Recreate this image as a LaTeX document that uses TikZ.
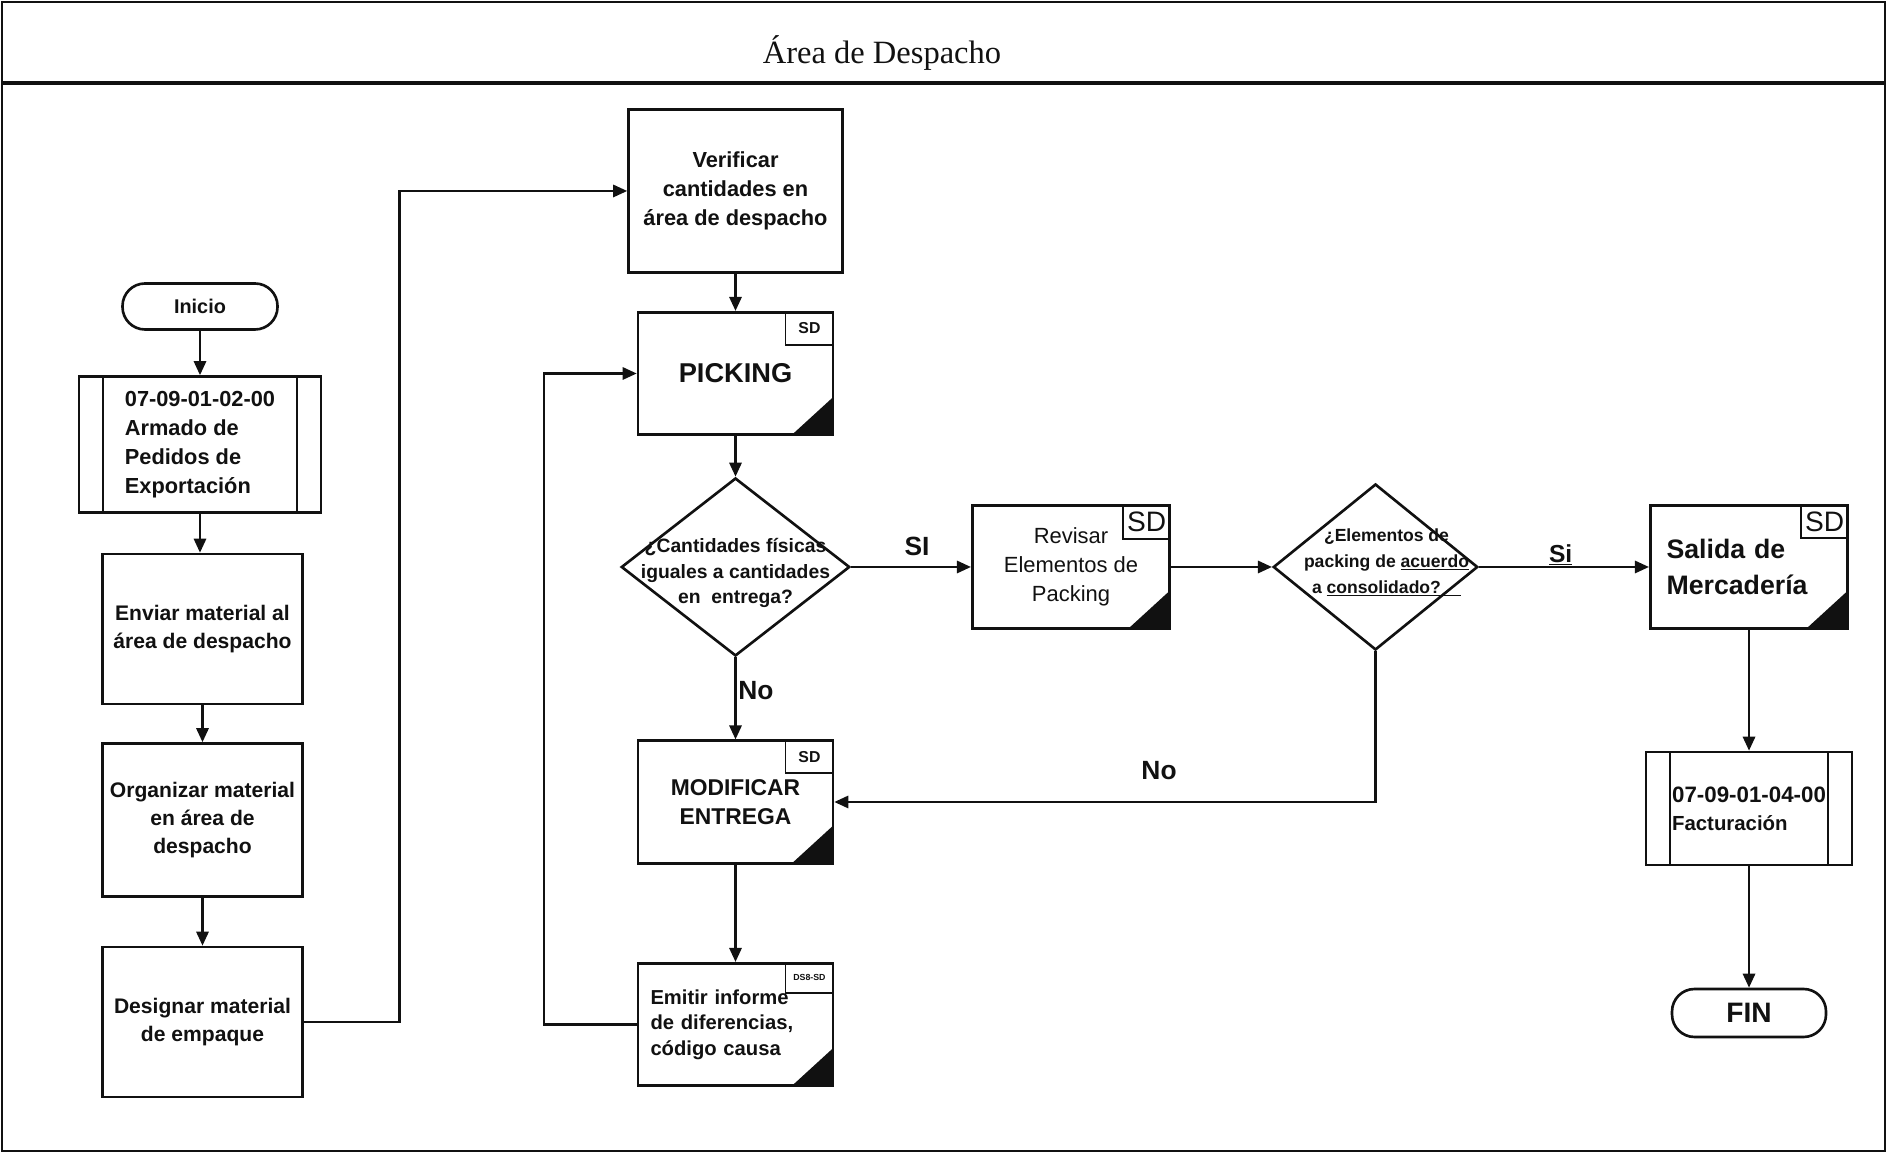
\documentclass[tikz,border=0pt]{standalone}
\usepackage{fontspec}
\setmainfont{Liberation Sans}
\newfontfamily\serifa{Liberation Serif}
\usepackage{tikz}
\usetikzlibrary{arrows.meta,shapes.geometric}
\definecolor{tinta}{HTML}{111111}
\newcommand{\tam}[2]{\fontsize{#1}{#2}\selectfont}

\begin{document}
\begin{tikzpicture}[
  borde/.style={draw=tinta, line width=1.5pt},
  flecha/.style={-{Triangle[length=8pt,width=7pt]}, tinta, line width=1.3pt},
  caja/.style={borde, rectangle, align=center, inner sep=2pt, text=tinta, font=\tam{12}{16}\bfseries},
  sdcaja/.style={caja, minimum width=3.9cm, minimum height=2.45cm,
    path picture={\fill[tinta] (path picture bounding box.south east) -- ++(0,0.75) -- ++(-0.82,-0.75) -- cycle;}},
  subproc/.style={caja, align=left, path picture={
    \draw[tinta, line width=1.5pt]
      ([xshift=0.48cm]path picture bounding box.north west) -- ([xshift=0.48cm]path picture bounding box.south west)
      ([xshift=-0.48cm]path picture bounding box.north east) -- ([xshift=-0.48cm]path picture bounding box.south east);}},
  inicfin/.style={borde, rectangle, rounded corners=0.45cm, minimum width=3.1cm, minimum height=0.92cm, inner sep=0pt, text=tinta},
  decision/.style={borde, diamond, inner sep=0pt},
  dectexto/.style={align=center, text=tinta, font=\tam{11}{14.7}\bfseries},
  marca/.style={draw=tinta, line width=1pt, minimum width=0.96cm, minimum height=0.66cm, inner sep=0pt, anchor=north east, text=tinta},
  rotulo/.style={text=tinta, font=\tam{15}{18}\bfseries, inner sep=1pt}]

\useasboundingbox (0,0) rectangle (37.74,23.1);

% ================= marco y titulo =================
\draw[tinta, line width=1.4pt] (0.04,0.08) rectangle (37.70,23.06);
\draw[tinta, line width=2.3pt] (0.04,21.44) -- (37.70,21.44);
\node[text=tinta, font=\serifa\tam{18.5}{22}] (titulo) at (17.64,22.04) {Área de Despacho};

% ================= columna izquierda =================
\node[inicfin, font=\tam{11.3}{13}\bfseries] (inicio) at (4.0,16.97) {Inicio};
\node[subproc, minimum width=4.84cm, minimum height=2.72cm, font=\tam{12.4}{16.4}\bfseries] (armado) at (4.0,14.21)
  {07-09-01-02-00\\Armado de\\Pedidos de\\Exportación};
\node[caja, minimum width=4cm, minimum height=3cm] (enviar) at (4.05,10.52) {Enviar material al\\área de despacho};
\node[caja, minimum width=4cm, minimum height=3.06cm] (organizar) at (4.05,6.70) {Organizar material\\en área de\\despacho};
\node[caja, minimum width=4cm, minimum height=3cm] (designar) at (4.05,2.66) {Designar material\\de empaque};

% ================= columna central =================
\node[caja, minimum width=4.28cm, minimum height=3.25cm, font=\tam{12.4}{16.7}\bfseries] (verificar) at (14.71,19.28)
  {Verificar\\cantidades en\\área de despacho};
\node[sdcaja, font=\tam{15.5}{18}\bfseries] (picking) at (14.71,15.63) {PICKING};
\node[marca, font=\tam{9}{10}\bfseries] (pickingSD) at (picking.north east) {SD};
\node[decision, minimum width=4.57cm, minimum height=3.56cm] (cantidades) at (14.71,11.76) {};
\node[dectexto] (cantidadesTxt) at (14.71,11.64) {¿Cantidades físicas\\iguales a cantidades\\en\ \ entrega?};
\node[sdcaja, font=\tam{13}{16.5}\bfseries] (modificar) at (14.71,7.06) {MODIFICAR\\ENTREGA};
\node[marca, font=\tam{9}{10}\bfseries] (modificarSD) at (modificar.north east) {SD};
\node[sdcaja, align=left, text width=3.4cm, font=\tam{11.5}{14.5}\bfseries] (emitir) at (14.71,2.61)
  {Emitir informe\\de diferencias,\\código causa};
\node[marca, minimum height=0.6cm, font=\tam{5}{6}\bfseries] (emitirSD) at (emitir.north east) {DS8-SD};

% ================= columna derecha =================
\node[sdcaja, minimum width=3.95cm, font=\tam{12.5}{16.4}] (revisar) at (21.42,11.76) {Revisar\\Elementos de\\Packing};
\node[marca, minimum width=0.94cm, minimum height=0.67cm, font=\tam{16}{18}] (revisarSD) at (revisar.north east) {SD};
\node[decision, minimum width=4.09cm, minimum height=3.32cm] (elementos) at (27.51,11.76) {};
\node[dectexto, font=\tam{10}{14.8}\bfseries] (elementosTxt) at (27.73,11.85)
  {¿Elementos de\\packing de \underline{acuerdo}\\a \underline{consolidado?\hspace{0.4cm}}};
\node[sdcaja, minimum width=3.95cm, align=left, text width=3.3cm, font=\tam{15.2}{20.5}\bfseries] (salida) at (34.98,11.76)
  {Salida de\\Mercadería};
\node[marca, minimum width=0.94cm, font=\tam{16}{18}] (salidaSD) at (salida.north east) {SD};
\node[subproc, minimum width=4.12cm, minimum height=2.26cm, font=\tam{12.7}{16}\bfseries] (facturacion) at (34.98,6.93)
  {07-09-01-04-00\\{\tam{11.6}{16}Facturación}};
\node[inicfin, minimum width=3.08cm, minimum height=0.96cm, font=\tam{16}{18}\bfseries] (fin) at (34.98,2.84) {FIN};

% ================= conectores =================
\draw[flecha] (inicio) -- (armado);
\draw[flecha] (armado) -- (armado.south |- enviar.north);
\draw[flecha] (enviar) -- (organizar);
\draw[flecha] (organizar) -- (designar);
\coordinate (codo1) at (7.99,2.66);
\draw[flecha] (designar.east) -- (codo1) |- (verificar.west);
\draw[flecha] (verificar) -- (picking);
\draw[flecha] (picking) -- (cantidades);
\draw[flecha] (cantidades) -- node[rotulo, pos=0.55, above=4.5pt] (si1) {SI} (revisar);
\draw[flecha] (revisar) -- (elementos);
\draw[flecha] (elementos) -- node[rotulo, pos=0.48, above=-1pt, font=\tam{14}{16}\bfseries] (si2) {\underline{Si}} (salida);
\draw[flecha] (salida) -- (facturacion);
\draw[flecha] (facturacion) -- (fin);
\draw[flecha] (cantidades) -- node[rotulo, pos=0.4, right] (no1) {No} (modificar);
\draw[flecha] (elementos.south) |- node[rotulo, pos=0.7, above=11pt] (no2) {No} (modificar.east);
\draw[flecha] (modificar) -- (emitir);
% regreso al picking
\coordinate (codo2) at (10.88,2.61);
\draw[flecha] (emitir.west) -- (codo2) |- (picking.west);

\end{tikzpicture}
\end{document}
